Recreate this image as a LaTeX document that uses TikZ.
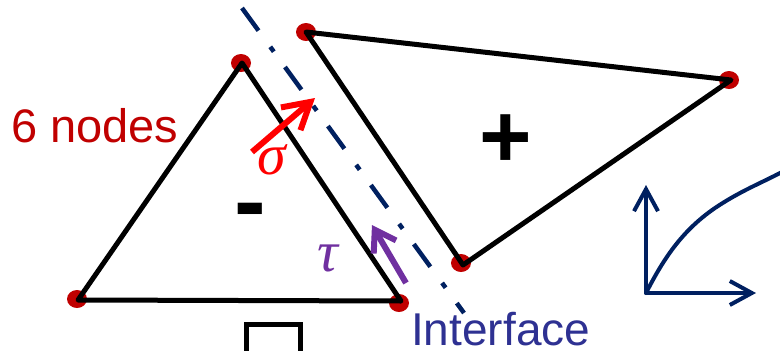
\documentclass[tikz,border=0pt]{standalone}
\usepackage{fontspec}
\setmainfont{Liberation Sans}
\newfontfamily\serifit{Liberation Serif}[ItalicFont={* Italic}]
\usetikzlibrary{arrows.meta,shapes.geometric}
\definecolor{dotred}{RGB}{192,0,0}
\definecolor{navy}{RGB}{0,32,96}
\definecolor{purp}{RGB}{112,48,160}
\definecolor{ifblue}{RGB}{46,49,146}
\tikzset{
  edge/.style={line width=5pt, line join=round},
  vdot/.style={ellipse, fill=dotred, minimum width=20pt, minimum height=18pt, inner sep=0pt},
  axis/.style={navy, line width=4pt, -{Straight Barb[length=22pt, width=24pt, line width=4pt]}},
  greek/.style={font=\serifit\itshape\fontsize{58}{58}\selectfont, inner sep=0pt},
}
\begin{document}
\begin{tikzpicture}[x=1pt, y=-1pt]
\useasboundingbox (0,0) rectangle (780,351);
% vertices
\coordinate (A) at (242,63);
\coordinate (B) at (78,300);
\coordinate (C) at (401,301);
\coordinate (P) at (306,32);
\coordinate (Q) at (731,80);
\coordinate (R) at (463,265);
% dots
\node[vdot] (dA) at (241,63) {};
\node[vdot] (dB) at (77,299) {};
\node[vdot] (dC) at (399,303) {};
\node[vdot] (dP) at (306,32) {};
\node[vdot] (dQ) at (729,80) {};
\node[vdot] (dR) at (461,263) {};
% elements
\draw[edge] (A) -- (B) -- (C) -- cycle;
\draw[edge] (P) -- (Q) -- (R) -- cycle;
% interface line
\coordinate (I1) at (242,8);
\coordinate (I2) at (464,313);
\draw[navy, line width=4.5pt, dash pattern=on 28pt off 20pt on 6pt off 19pt] (I1) -- (I2);
% stresses
\coordinate (s1) at (252,152);
\coordinate (s2) at (315,98);
\draw[red, line width=6pt, -{Straight Barb[length=26pt, width=30pt, line width=6pt]}] (s1) -- (s2);
\node[red, greek] (sig) at (272,160) {σ};
\coordinate (t1) at (406,283);
\coordinate (t2) at (372,225);
\draw[purp, line width=6pt, -{Straight Barb[length=20pt, width=26pt, line width=6pt]}] (t1) -- (t2);
\node[purp, greek] (tau) at (328,258) {τ};
% labels
\node[dotred, font=\fontsize{47}{47}\selectfont, anchor=base west, inner sep=0pt] (six) at (11,142) {6 nodes};
\node[ifblue, font=\fontsize{46}{46}\selectfont, anchor=base west, inner sep=0pt] (iface) at (411,345) {Interface};
\node[font=\bfseries\fontsize{90}{90}\selectfont, inner sep=0pt] (plus) at (506,141) {+};
\node[font=\bfseries\fontsize{95}{95}\selectfont, inner sep=0pt, anchor=base] (minus) at (250,233) {-};
% square
\draw[line width=5pt] (246,360) -- (246,324) -- (300,324) -- (300,360);
% graph
\coordinate (O) at (646,293);
\coordinate (Yt) at (646,185);
\coordinate (Xt) at (756,293);
\draw[axis, line cap=round] (O) -- (Yt);
\draw[axis, line cap=round] (O) -- (Xt);
\draw[navy, line width=4pt] (O) .. controls (662,262) and (680,232) .. (715,208) .. controls (745,188) and (765,182) .. (795,165);
\end{tikzpicture}
\end{document}
